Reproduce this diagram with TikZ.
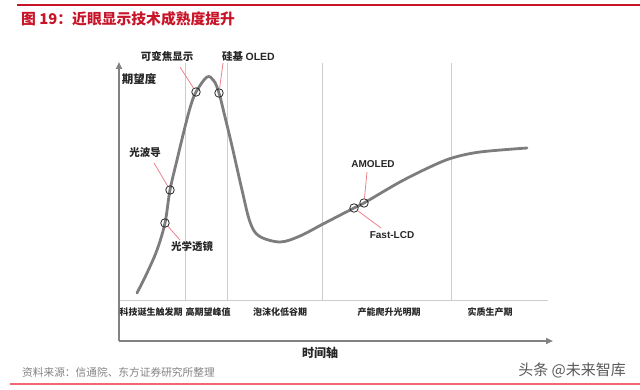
\documentclass[tikz,border=0pt]{standalone}
\usepackage{fontspec}
\setmainfont{Liberation Sans}
\newfontfamily\cjk{Noto Sans CJK SC}
\usetikzlibrary{arrows.meta}
\definecolor{titlered}{RGB}{200,20,40}
\definecolor{curvegray}{RGB}{125,125,125}
\definecolor{axisgray}{RGB}{130,130,130}
\definecolor{divgray}{RGB}{205,205,205}
\definecolor{leadred}{RGB}{238,130,140}
\definecolor{srcgray}{RGB}{130,130,130}
\tikzset{
  phase/.style={font=\cjk\fontsize{9}{10}\selectfont\bfseries, text=black!85, inner sep=0pt},
  lab/.style={font=\cjk\fontsize{10.5}{12}\selectfont\bfseries, text=black!85, inner sep=0pt},
  latlab/.style={font=\fontsize{10}{12}\selectfont\bfseries, text=black!85, inner sep=0pt},
  marker/.style={circle, draw=black!85, line width=0.8pt, minimum size=8.5pt, inner sep=0pt},
  leader/.style={draw=leadred, line width=0.8pt},
  divider/.style={draw=divgray, line width=1pt},
  axis/.style={draw=axisgray, line width=2.4pt},
}
\begin{document}
\begin{tikzpicture}[x=1pt,y=-1pt]
\useasboundingbox (0,0) rectangle (640,390);
% frame lines
\draw[titlered, line width=1.2pt] (17,5) -- (640,5);
\draw[leadred!80!red, line width=1.2pt] (10,384) -- (640,384);
\node[anchor=west, inner sep=0pt, text=titlered, font=\cjk\fontsize{14.8}{16}\selectfont\bfseries] (title) at (21,19) {图 19：近眼显示技术成熟度提升};
\node[anchor=west, inner sep=0pt, text=srcgray, font=\cjk\fontsize{10.7}{12}\selectfont] (src) at (22,372) {资料来源：信通院、东方证券研究所整理};
\node[anchor=east, inner sep=0pt, text=black!65, font=\cjk\fontsize{15}{17}\selectfont] (wm) at (626,370) {头条 @未来智库};
% dividers
\draw[divider] (119,300) -- (548,300);
\foreach \x in {185,227,322,451} { \draw[divider] (\x,63) -- (\x,300); }
% axes
\coordinate (ytop) at (119,62);
\coordinate (origin) at (119,341);
\coordinate (xend) at (553,341);
\draw[axis, rounded corners=2pt, -{Triangle[length=7pt,width=6pt]}] (origin) -- (xend);
\draw[axis, -{Triangle[length=7pt,width=6pt]}] (origin) -- (ytop);
\node[font=\cjk\fontsize{11.5}{13}\selectfont\bfseries, text=black!85, inner sep=0pt] (ylab) at (139,79) {期望度};
\node[font=\cjk\fontsize{12}{14}\selectfont\bfseries, text=black!85, inner sep=0pt] (xlab) at (320,353) {时间轴};
% phases
\node[phase] (p1) at (151,312) {科技诞生触发期};
\node[phase] (p2) at (208,312) {高期望峰值};
\node[phase] (p3) at (280,312) {泡沫化低谷期};
\node[phase] (p4) at (389,312) {产能爬升光明期};
\node[phase] (p5) at (490,312) {实质生产期};
% curve
\draw[curvegray, line width=2.8pt, line cap=round] plot[smooth, tension=0.55] coordinates {
 (137,293) (147,273) (157,250) (165,223) (170,190) (177,160) (183,135) (190,108) (196,92)
 (207,77) (214,81) (219,93) (225,117) (232,146) (242,190) (250,222) (259,236) (280,242)
 (300,236) (323,224) (354,208) (364,203) (400,182) (430,167) (452,158) (480,152) (527,148)};
% markers
\node[marker] (c1) at (196,92) {};
\node[marker] (c2) at (219,93) {};
\node[marker] (c3) at (170,190) {};
\node[marker] (c4) at (165,223) {};
\node[marker] (c5) at (354,208) {};
\node[marker] (c6) at (364,203) {};
% labels
\node[lab] (l1) at (167,56) {可变焦显示};
\node[lab, anchor=west] (l2) at (222,56) {硅基 \fontspec{Liberation Sans}OLED};
\node[lab] (l3) at (145,153) {光波导};
\node[lab] (l4) at (192,247) {光学透镜};
\node[latlab] (l5) at (373,164) {AMOLED};
\node[latlab] (l6) at (392,235) {Fast-LCD};
% leaders
\coordinate (s1) at (180,67);
\coordinate (s2) at (223,63);
\coordinate (s3) at (154,163);
\coordinate (s4) at (180,240);
\coordinate (s5) at (367,172);
\coordinate (s6) at (381,228);
\draw[leader] (s1) -- (c1);
\draw[leader] (s2) -- (c2);
\draw[leader] (s3) -- (c3);
\draw[leader] (s4) -- (c4);
\draw[leader] (s5) -- (c6);
\draw[leader] (s6) -- (c5);
\end{tikzpicture}
\end{document}
